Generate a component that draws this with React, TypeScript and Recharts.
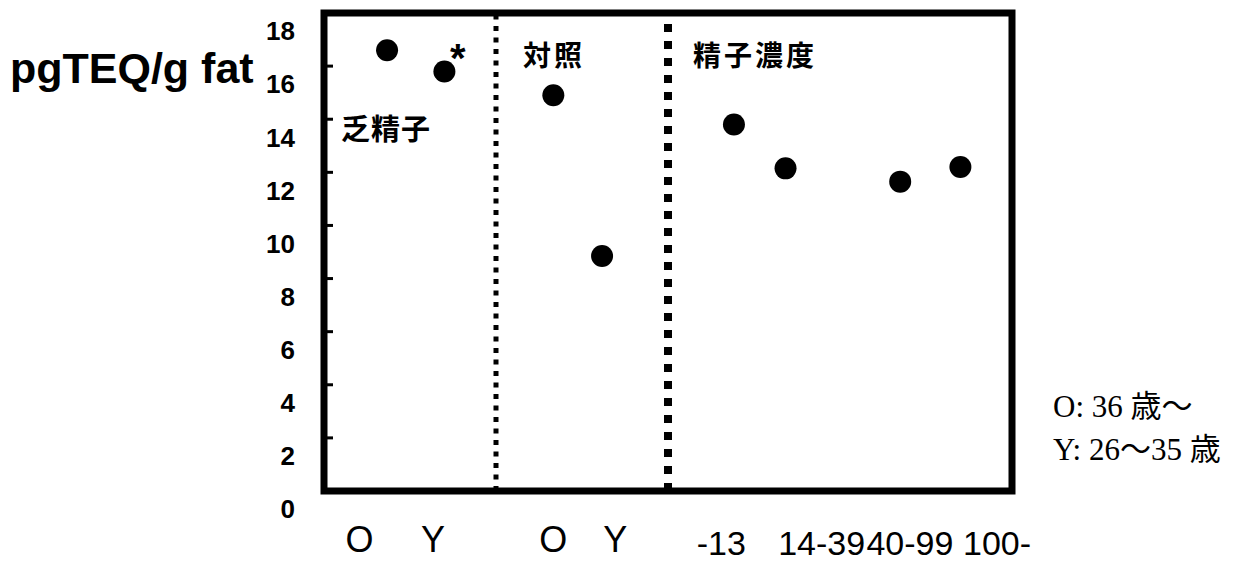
import React from "react";
import {
  ReferenceArea,
  ReferenceLine,
  Scatter,
  ScatterChart,
  XAxis,
  YAxis,
} from "recharts";

// x runs on a 0–12 panel scale: panels break at 3 and 6
const pointX = [1.1, 2.1, 4.0, 4.85, 7.15, 8.05, 10.05, 11.1];
const teqValues = [16.6, 15.8, 14.9, 8.85, 13.8, 12.15, 11.65, 12.2];
const categoryLabels = ["O", "Y", "O", "Y", "-13", "14-39", "40-99", "100-"];
const categoryTickX = [0.62, 1.9, 4.0, 5.08, 6.93, 8.68, 10.22, 11.74];
const yTicks = [0, 2, 4, 6, 8, 10, 12, 14, 16, 18];
const panelBreaks = [3, 6];
const groupLabels = ["乏精子", "対照", "精子濃度"];
const legendLines = ["O: 36 歳～", "Y: 26～35 歳"];

const data = pointX.map((x, i) => ({ x, teq: teqValues[i] }));

const SANS = "'Liberation Sans', Arial, sans-serif";
const CJK = "'Noto Sans CJK JP', sans-serif";
const SERIF = "'Liberation Serif', 'Noto Sans CJK JP', serif";

function YTick({ x, y, payload }: any) {
  return (
    <g>
      <line x1={x} x2={x + 9} y1={y} y2={y} stroke="#000" strokeWidth={3} />
      <text
        x={x - 29}
        y={y + 18}
        dy="0.36em"
        textAnchor="end"
        fontFamily={SANS}
        fontWeight="bold"
        fontSize={26}
        fill="#000"
      >
        {payload.value}
      </text>
    </g>
  );
}

function XTick({ x, y, payload }: any) {
  const i = categoryTickX.indexOf(payload.value);
  const isAge = i < 4;
  return (
    <text
      x={x}
      y={y + (isAge ? 61 : 64)}
      textAnchor="middle"
      fontFamily={SANS}
      fontSize={isAge ? 36 : 34}
      fill="#000"
    >
      {categoryLabels[i]}
    </text>
  );
}

const Dot = ({ cx, cy }: any) => <circle cx={cx} cy={cy} r={11} fill="#000" />;

export default function App() {
  return (
    <div
      style={{
        position: "absolute",
        left: 0,
        top: 0,
        width: 1241,
        height: 561,
        background: "#fff",
      }}
    >
      <ScatterChart
        width={1241}
        height={561}
        margin={{ top: 13, right: 229, bottom: 0, left: 0 }}
      >
        <XAxis
          type="number"
          dataKey="x"
          domain={[0, 12]}
          ticks={categoryTickX}
          interval={0}
          axisLine={false}
          tickLine={false}
          tickSize={0}
          tickMargin={0}
          height={70}
          tick={<XTick />}
        />
        <YAxis
          type="number"
          dataKey="teq"
          domain={[0, 18]}
          ticks={yTicks}
          interval={0}
          axisLine={false}
          tickLine={false}
          tickSize={0}
          tickMargin={0}
          width={324}
          tick={<YTick />}
        />
        <ReferenceArea
          x1={0}
          x2={12}
          y1={0}
          y2={18}
          fill="none"
          stroke="#000"
          strokeWidth={7}
        />
        <ReferenceLine
          x={panelBreaks[0]}
          stroke="#000"
          strokeWidth={5}
          strokeDasharray="5 6.5"
        />
        <ReferenceLine
          x={panelBreaks[1]}
          stroke="#000"
          strokeWidth={8}
          strokeDasharray="8 9"
        />
        <Scatter data={data} shape={<Dot />} isAnimationActive={false} />
      </ScatterChart>

      <svg
        width={1241}
        height={561}
        style={{ position: "absolute", left: 0, top: 0, pointerEvents: "none" }}
      >
        <text x={10} y={83} fontFamily={SANS} fontWeight="bold" fontSize={43} fill="#000">
          pgTEQ/g fat
        </text>
        <text x={341} y={140} fontFamily={CJK} fontWeight="bold" fontSize={29} letterSpacing={1} fill="#000">
          {groupLabels[0]}
        </text>
        <text x={523} y={66} fontFamily={CJK} fontWeight="bold" fontSize={28} letterSpacing={3} fill="#000">
          {groupLabels[1]}
        </text>
        <text x={693} y={66} fontFamily={CJK} fontWeight="bold" fontSize={28} letterSpacing={3} fill="#000">
          {groupLabels[2]}
        </text>
        <text x={450} y={72} fontFamily={SANS} fontWeight="bold" fontSize={40} fill="#000">
          *
        </text>
        {legendLines.map((line, i) => (
          <text key={line} x={1053} y={417 + i * 43} fontFamily={SERIF} fontSize={31} fill="#000">
            {line}
          </text>
        ))}
      </svg>
    </div>
  );
}
